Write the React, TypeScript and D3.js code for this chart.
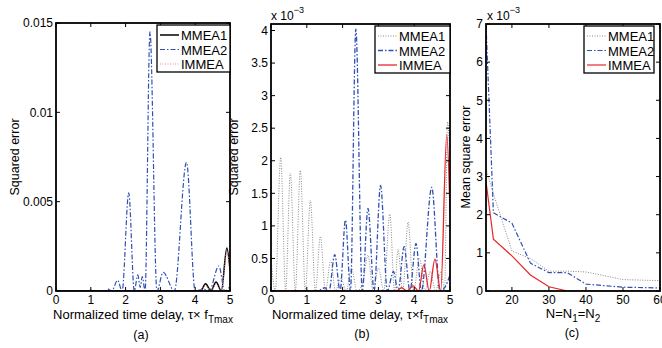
import React from 'react';
import * as d3 from 'd3';

// panel (a): squared error vs normalized delay
const aMMEA1: [number, number][] = [
  [0, 0], [4.0, 0], [4.15, 0], [4.3, 0.0004], [4.45, 0], [4.6, 0.0005], [4.75, 0], [4.91, 0.0024], [5, 0.0012],
];
const aMMEA2: [number, number][] = [
  [0, 0], [0.9, 0], [1.0, 0.00005], [1.1, 0], [1.4, 0], [1.5, 0.0001], [1.6, 0], [1.77, 0.0006], [1.9, 0],
  [2.09, 0.0055], [2.25, 0], [2.35, 0.0009], [2.42, 0.0002], [2.48, 0.0008], [2.56, 0], [2.7, 0.0145],
  [2.9, 0], [3.08, 0.00105], [3.4, 0], [3.75, 0.0072], [4.0, 0], [4.25, 0.0001], [4.4, 0], [4.68, 0.0014],
  [4.85, 0], [5, 0.00025],
];
const aIMMEA: [number, number][] = [
  [0, 0], [4.1, 0], [4.3, 0.0003], [4.45, 0], [4.6, 0.0004], [4.75, 0], [4.91, 0.0022], [5, 0.0011],
];

// panel (b): values in units of 1e-3
const bMMEA1: [number, number][] = [
  [0, 0.5], [0.12, 0], [0.27, 2.05], [0.41, 0], [0.54, 1.81], [0.68, 0], [0.82, 1.85], [0.96, 0],
  [1.1, 1.39], [1.24, 0], [1.38, 0.84], [1.52, 0], [1.67, 0.47], [1.8, 0], [1.95, 0.2], [2.1, 0],
  [2.25, 0.35], [2.4, 0], [2.55, 0.1], [2.71, 0.55], [2.85, 0], [3.0, 0.35], [3.15, 0], [3.32, 1.18],
  [3.45, 0], [3.55, 0.64], [3.68, 0], [3.83, 1.06], [3.98, 0], [4.15, 0.5], [4.3, 0], [4.45, 0.3],
  [4.6, 0], [4.75, 0.3], [4.85, 0], [4.93, 2.6], [5, 2.0],
];
const bMMEA2: [number, number][] = [
  [0, 0], [1.3, 0], [1.5, 0.05], [1.62, 0], [1.78, 0.56], [1.93, 0], [2.08, 1.09], [2.22, 0], [2.37, 4.02],
  [2.55, 0], [2.71, 1.27], [2.88, 0], [3.06, 1.62], [3.25, 0], [3.42, 0.3], [3.55, 0], [3.72, 0.68],
  [3.88, 0], [4.05, 0.73], [4.2, 0], [4.49, 1.59], [4.72, 0], [4.85, 0.05], [5, 0.25],
];
const bIMMEA: [number, number][] = [
  [0, 0], [3.5, 0], [3.65, 0.05], [3.8, 0], [3.97, 0.08], [4.12, 0], [4.27, 0.4], [4.42, 0], [4.58, 0.49],
  [4.74, 0], [4.91, 2.4], [5, 1.2],
];

// panel (c): mean square error vs N, units of 1e-3
const cN = [13, 15, 20, 25, 30, 35, 40, 50, 60];
const cMMEA1 = [3.2, 2.55, 1.05, 0.85, 0.52, 0.52, 0.5, 0.3, 0.27];
const cMMEA2 = [7.0, 2.05, 1.78, 0.73, 0.48, 0.48, 0.18, 0.1, 0.08];
const cIMMEA = [2.87, 1.36, 0.92, 0.42, 0.11, 0, 0, 0, 0];

const abTicks = [0, 1, 2, 3, 4, 5];
const aYTicks = [0, 0.005, 0.01, 0.015];
const bYTicks = [0, 0.5, 1, 1.5, 2, 2.5, 3, 3.5, 4];
const cXTicks = [20, 30, 40, 50, 60];
const cYTicks = [0, 1, 2, 3, 4, 5, 6, 7];

const FONT = 'Liberation Sans, Arial, sans-serif';
const BLUE = '#3050b4';
const GREY = '#8a8a8a';
const RED = '#e8262a';

type Series = { name: string; pts: [number, number][]; color: string; dash?: string; width: number; curve: any };

const Panel = ({ x0, x1, y0, y1, xDom, yDom, xTicks, yTicks, series, legendX, legendW }: any) => {
  const x = d3.scaleLinear().domain(xDom).range([x0, x1]);
  const y = d3.scaleLinear().domain(yDom).range([y1, y0]);
  const tl = 4;
  return (
    <g>
      <defs>
        <clipPath id={`clip${x0}`}>
          <rect x={x0} y={y0} width={x1 - x0} height={y1 - y0} />
        </clipPath>
      </defs>
      <g clipPath={`url(#clip${x0})`}>
        {series.map((s: Series) => {
          const line = d3.line<[number, number]>().x((d) => x(d[0])).y((d) => y(d[1])).curve(s.curve);
          return (
            <path key={s.name} d={line(s.pts) || ''} fill="none" stroke={s.color} strokeWidth={s.width}
              strokeDasharray={s.dash} />
          );
        })}
      </g>
      {xTicks.map((t: number) => (
        <g key={'x' + t}>
          <line x1={x(t)} x2={x(t)} y1={y1} y2={y1 - tl} stroke="#000" />
          <line x1={x(t)} x2={x(t)} y1={y0} y2={y0 + tl} stroke="#000" />
          <text x={x(t)} y={y1 + 12.5} textAnchor="middle" fontSize={12}>{t}</text>
        </g>
      ))}
      {yTicks.map((t: number) => (
        <g key={'y' + t}>
          <line x1={x0} x2={x0 + tl} y1={y(t)} y2={y(t)} stroke="#000" />
          <line x1={x1} x2={x1 - tl} y1={y(t)} y2={y(t)} stroke="#000" />
          <text x={x0 - 3} y={y(t) + 4.3} textAnchor="end" fontSize={12}>{String(t)}</text>
        </g>
      ))}
      <rect x={x0} y={y0} width={x1 - x0} height={y1 - y0} fill="none" stroke="#000" strokeWidth={1.8} />
      <g>
        <rect x={legendX} y={y0 + 2} width={legendW} height={47} fill="#fff" stroke="#000" strokeWidth={1.3} />
        {series.map((s: Series, i: number) => {
          const ly = y0 + 12 + i * 14.5;
          return (
            <g key={'l' + s.name}>
              <line x1={legendX + 3} x2={legendX + 22} y1={ly} y2={ly} stroke={s.color} strokeWidth={s.width}
                strokeDasharray={s.dash} />
              <text x={legendX + 24} y={ly + 5} fontSize={13}>{s.name}</text>
            </g>
          );
        })}
      </g>
    </g>
  );
};

export default function App() {
  const toPts = (ys: number[]): [number, number][] => cN.map((n, i) => [n, ys[i]]);
  const aSeries: Series[] = [
    { name: 'MMEA1', pts: aMMEA1, color: '#000', width: 1.5, curve: d3.curveMonotoneX },
    { name: 'MMEA2', pts: aMMEA2, color: BLUE, dash: '5,2,1.5,2', width: 1.2, curve: d3.curveMonotoneX },
    { name: 'IMMEA', pts: aIMMEA, color: '#f08a8a', dash: '1,1.5', width: 1, curve: d3.curveMonotoneX },
  ];
  const bSeries: Series[] = [
    { name: 'MMEA1', pts: bMMEA1, color: GREY, dash: '1,1.5', width: 1, curve: d3.curveMonotoneX },
    { name: 'MMEA2', pts: bMMEA2, color: BLUE, dash: '5,2,1.5,2', width: 1.3, curve: d3.curveMonotoneX },
    { name: 'IMMEA', pts: bIMMEA, color: RED, width: 1.3, curve: d3.curveMonotoneX },
  ];
  const cSeries: Series[] = [
    { name: 'MMEA1', pts: toPts(cMMEA1), color: GREY, dash: '1,1.5', width: 1, curve: d3.curveLinear },
    { name: 'MMEA2', pts: toPts(cMMEA2), color: BLUE, dash: '5,2,1.5,2', width: 1.2, curve: d3.curveLinear },
    { name: 'IMMEA', pts: toPts(cIMMEA), color: RED, width: 1.2, curve: d3.curveLinear },
  ];
  return (
    <svg width={662} height={348} style={{ position: 'absolute', left: 0, top: 0, background: '#fff' }}
      fontFamily={FONT}>
      <Panel x0={56} x1={230} y0={23} y1={291} xDom={[0, 5]} yDom={[0, 0.015]} xTicks={abTicks}
        yTicks={aYTicks} series={aSeries} legendX={157} legendW={73} />
      <Panel x0={271} x1={450} y0={24} y1={291} xDom={[0, 5]} yDom={[0, 4.1]} xTicks={abTicks}
        yTicks={bYTicks} series={bSeries} legendX={375} legendW={75} />
      <Panel x0={486} x1={660} y0={24} y1={291} xDom={[13, 60]} yDom={[0, 7]} xTicks={cXTicks}
        yTicks={cYTicks} series={cSeries} legendX={584} legendW={70} />

      <text transform="translate(19,157) rotate(-90)" textAnchor="middle" fontSize={12.5}>Squared error</text>
      <text transform="translate(238,157) rotate(-90)" textAnchor="middle" fontSize={12.5}>Squared error</text>
      <text transform="translate(470,157) rotate(-90)" textAnchor="middle" fontSize={12.5}>Mean square error</text>

      <text x={271} y={20} fontSize={12}>x 10<tspan dy={-7} fontSize={9}>−3</tspan></text>
      <text x={487} y={20} fontSize={12}>x 10<tspan dy={-7} fontSize={9}>−3</tspan></text>

      <text x={143} y={319} textAnchor="middle" fontSize={13}>
        Normalized time delay, τ× f<tspan dy={4} fontSize={10}>Tmax</tspan>
      </text>
      <text x={360} y={319} textAnchor="middle" fontSize={13}>
        Normalized time delay, τ×f<tspan dy={4} fontSize={10}>Tmax</tspan>
      </text>
      <text x={573} y={318} textAnchor="middle" fontSize={13}>
        N=N<tspan dy={4} fontSize={10}>1</tspan><tspan dy={-4}>=N</tspan><tspan dy={4} fontSize={10}>2</tspan>
      </text>
      <text x={141} y={339} textAnchor="middle" fontSize={12.5}>(a)</text>
      <text x={362} y={338} textAnchor="middle" fontSize={12.5}>(b)</text>
      <text x={572} y={337} textAnchor="middle" fontSize={12.5}>(c)</text>
    </svg>
  );
}
